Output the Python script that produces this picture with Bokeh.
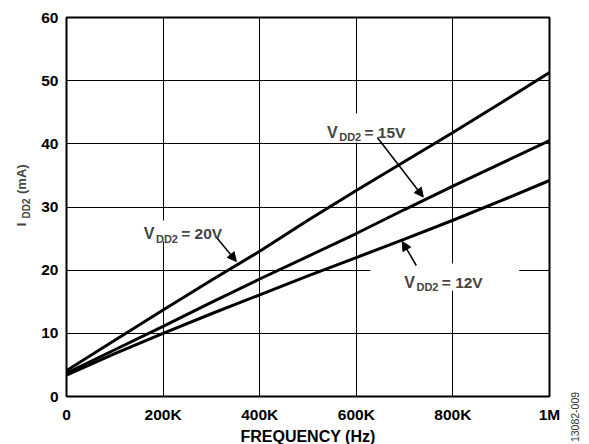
import math
from bokeh.plotting import figure
from bokeh.layouts import row
from bokeh.models import (Range1d, FixedTicker, Label, Arrow, NormalHead, BoxAnnotation, Div)
from bokeh.embed import file_html
from bokeh.resources import INLINE

# ---- data (frequency in kHz, supply current in mA) ----
freq_khz = [0, 100, 200, 300, 400, 500, 600, 700, 800, 900, 1000]
idd2_20v = [4.1, 8.9, 13.7, 18.4, 23.0, 27.9, 32.6, 37.2, 41.8, 46.5, 51.3]
idd2_15v = [3.7, 7.4, 11.1, 14.9, 18.6, 22.2, 25.8, 29.6, 33.3, 36.9, 40.5]
idd2_12v = [3.4, 6.8, 10.0, 13.1, 16.1, 19.1, 22.0, 24.9, 27.9, 31.0, 34.2]

x_ticks = [0, 200, 400, 600, 800, 1000]
x_tick_labels = ["0", "200K", "400K", "600K", "800K", "1M"]
y_ticks = [0, 10, 20, 30, 40, 50, 60]

FONT = "Liberation Sans"
FS = "15.5px"
H = 444
LEFT_W = 36
RIGHT_W = 25
FRAME_TOP = 17
FRAME_BOTTOM = 396

p = figure(frame_width=483, frame_height=379, output_backend="svg", toolbar_location=None,
           x_range=Range1d(0, 1000), y_range=Range1d(0, 60),
           min_border_left=30, min_border_right=14, min_border_top=17, min_border_bottom=48)
p.outline_line_color = "black"
p.outline_line_width = 2
p.background_fill_color = "white"
p.border_fill_color = "white"

p.xaxis.ticker = FixedTicker(ticks=x_ticks)
p.xaxis.major_label_overrides = {t: l for t, l in zip(x_ticks, x_tick_labels)}
p.yaxis.ticker = FixedTicker(ticks=y_ticks)
for ax in (p.xaxis[0], p.yaxis[0]):
    ax.axis_line_color = None
    ax.major_tick_line_color = None
    ax.minor_tick_line_color = None
    ax.major_tick_out = 0
    ax.major_tick_in = 0
    ax.major_label_text_font = FONT
    ax.major_label_text_font_style = "bold"
    ax.major_label_text_font_size = FS
    ax.major_label_text_color = "black"
p.xaxis.major_label_standoff = 9
p.yaxis.major_label_standoff = 8
p.xaxis.axis_label = "FREQUENCY (Hz)"
p.xaxis.axis_label_text_font = FONT
p.xaxis.axis_label_text_font_style = "bold"
p.xaxis.axis_label_text_font_size = "16px"
p.xaxis.axis_label_text_color = "black"
p.xaxis.axis_label_standoff = 2

p.grid.grid_line_color = "black"
p.grid.grid_line_width = 1
p.grid.grid_line_alpha = 1

# helpers: approximate page pixel -> data, for placing annotations
def dx(px):
    return (px - 66.0) / (549.3 - 66.0) * 1000.0

def dy(py):
    return (396.0 - py) / (396.0 - 17.0) * 60.0

# white boxes behind labels (hide grid lines)
for (l, r, t, b) in [(370, 519, 263, 290), (318, 416, 113, 142), (135, 235, 220, 241)]:
    p.add_layout(BoxAnnotation(left=dx(l), right=dx(r), top=dy(t), bottom=dy(b),
                               fill_color="white", fill_alpha=1.0, line_color=None,
                               level="underlay"))

for ys in (idd2_20v, idd2_15v, idd2_12v):
    p.line(freq_khz, ys, line_color="black", line_width=3)

def vlabel(px, py, volt):
    p.add_layout(Label(x=dx(px), y=dy(py), text="V", text_font=FONT, text_font_style="bold",
                       text_font_size="16px", text_baseline="alphabetic", text_align="left"))
    p.add_layout(Label(x=dx(px + 12.2), y=dy(py + 5), text="DD2", text_font=FONT,
                       text_font_style="bold", text_font_size="11px",
                       text_baseline="alphabetic", text_align="left"))
    p.add_layout(Label(x=dx(px + 37.5), y=dy(py), text=" = " + volt, text_font=FONT,
                       text_font_style="bold", text_font_size=FS,
                       text_baseline="alphabetic", text_align="left"))

vlabel(143.3, 233.3, "20V")
vlabel(326.7, 131.7, "15V")
vlabel(404.0, 281.7, "12V")

for (x0, y0, x1, y1) in [(217, 238, 236, 261), (377, 137, 423, 196.5), (416, 265, 402, 241)]:
    p.add_layout(Arrow(x_start=dx(x0), y_start=dy(y0), x_end=dx(x1), y_end=dy(y1),
                       line_color="black", line_width=1.5,
                       end=NormalHead(size=9, fill_color="black", line_color="black")))

ang = math.pi / 2

# left strip: rotated y-axis label I_DD2 (mA); its frame is aligned with the main frame,
# so its y range is set so that local y = H - page y.
pl = figure(width=LEFT_W, height=H, output_backend="svg", toolbar_location=None,
            x_range=Range1d(0, LEFT_W), y_range=Range1d(H - FRAME_BOTTOM, H - FRAME_TOP),
            x_axis_location=None, y_axis_location=None, min_border=0,
            min_border_top=FRAME_TOP, min_border_bottom=H - FRAME_BOTTOM)
pl.outline_line_color = None
pl.grid.visible = False
for (cx, cy, txt, fs) in [(20.5, 225.5, "I", "13px"), (25.5, 209.5, "DD2", "10px"),
                          (20.5, 180.0, "(mA)", "13px")]:
    pl.add_layout(Label(x=cx, y=H - cy, text=txt, angle=ang, text_font=FONT,
                        text_font_style="bold", text_font_size=fs,
                        text_baseline="middle", text_align="center"))

# right strip: figure id, rotated
id_html = ('<div style="position:relative; left:-18.5px; top:408.5px; width:60px; height:12px; '
           'line-height:12px; text-align:center; white-space:nowrap; transform:rotate(-90deg); '
           'font-family:\'Liberation Sans\'; font-size:10.5px; color:#333333;">13082-009</div>')
pr = Div(text=id_html, width=RIGHT_W, height=H, margin=0)

layout = row(pl, p, pr, spacing=0)
open("out.html", "w").write(file_html(layout, INLINE))
